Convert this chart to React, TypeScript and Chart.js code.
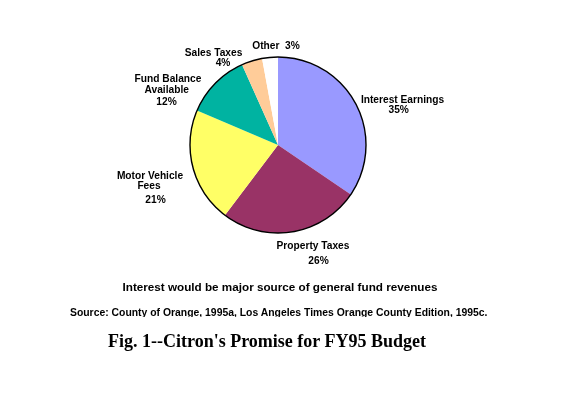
import React, { useEffect, useRef } from "react";
import { Chart, registerables } from "chart.js";

Chart.register(...registerables);

const categories = [
  "Interest Earnings",
  "Property Taxes",
  "Motor Vehicle Fees",
  "Fund Balance Available",
  "Sales Taxes",
  "Other",
];
const values = [34.5, 25.8, 21.1, 11.9, 3.8, 2.9];
const percentLabels = ["35%", "26%", "21%", "12%", "4%", "3%"];
const labelLines = [
  ["Interest Earnings", "35%"],
  ["Property Taxes", "26%"],
  ["Motor Vehicle", "Fees", "21%"],
  ["Fund Balance", "Available", "12%"],
  ["Sales Taxes", "4%"],
  ["Other  3%"],
];
const sliceColors = ["#9999ff", "#993366", "#ffff66", "#00b3a1", "#ffcc99", "#ffffff"];

// label line anchors relative to pie centre (dx, baseline dy)
const labelAnchors = [
  [[124.5, -42.3], [120.7, -32]],
  [[35, 104], [40.5, 119]],
  [[-128, 34.3], [-129, 44.3], [-122.5, 57.7]],
  [[-110, -63], [-111.3, -52], [-111.5, -40]],
  [[-64.5, -89], [-55, -79]],
  [[-2, -96]],
];

const caption = "Interest would be major source of general fund revenues";
const source = "Source: County of Orange, 1995a, Los Angeles Times Orange County Edition, 1995c.";
const figTitle = "Fig. 1--Citron's Promise for FY95 Budget";

const labelPlugin = {
  id: "pieLabels",
  afterDatasetsDraw(chart: any) {
    const meta = chart.getDatasetMeta(0);
    const arc = meta.data[0];
    if (!arc) return;
    const { x, y, outerRadius } = arc.getProps(["x", "y", "outerRadius"], true);
    const ctx = chart.ctx;
    ctx.save();
    ctx.beginPath();
    ctx.arc(x, y, outerRadius, 0, Math.PI * 2);
    ctx.strokeStyle = "#000";
    ctx.lineWidth = 1.4;
    ctx.stroke();
    ctx.fillStyle = "#000";
    ctx.font = "bold 10.2px 'Liberation Sans', Arial, sans-serif";
    ctx.textAlign = "center";
    ctx.textBaseline = "alphabetic";
    labelLines.forEach((lines, i) => {
      lines.forEach((line, j) => {
        const [dx, dy] = labelAnchors[i][j];
        ctx.fillText(line, x + dx, y + dy);
      });
    });
    ctx.restore();
  },
};

export default function App() {
  const ref = useRef<HTMLCanvasElement | null>(null);
  useEffect(() => {
    document.body.style.margin = "0";
    const chart = new Chart(ref.current as HTMLCanvasElement, {
      type: "pie",
      data: {
        labels: categories.map((c, i) => `${c} ${percentLabels[i]}`),
        datasets: [
          {
            data: values,
            backgroundColor: sliceColors,
            borderWidth: 0,
            hoverOffset: 0,
          },
        ],
      },
      options: {
        responsive: false,
        animation: false,
        events: [],
        layout: { padding: { top: 57, bottom: 160, left: 100, right: 116 } },
        plugins: { legend: { display: false }, tooltip: { enabled: false } },
      },
      plugins: [labelPlugin],
    });
    return () => chart.destroy();
  }, []);

  return (
    <div style={{ position: "relative", width: 572, height: 393, background: "#fff" }}>
      <canvas ref={ref} width={572} height={393} style={{ position: "absolute", left: 0, top: 0 }} />
      <div
        style={{
          position: "absolute",
          left: 0,
          width: 560,
          top: 280,
          textAlign: "center",
          font: "bold 11.7px 'Liberation Sans', Arial, sans-serif",
          lineHeight: "14px",
          whiteSpace: "nowrap",
        }}
      >
        {caption}
      </div>
      <div
        style={{
          position: "absolute",
          left: 70,
          top: 307,
          height: 10,
          overflow: "hidden",
          font: "bold 10.4px 'Liberation Sans', Arial, sans-serif",
          lineHeight: "12px",
          whiteSpace: "nowrap",
        }}
      >
        {source}
      </div>
      <div
        style={{
          position: "absolute",
          left: 108,
          top: 330,
          font: "bold 18px 'Liberation Serif', 'Times New Roman', serif",
          lineHeight: "22px",
          whiteSpace: "nowrap",
        }}
      >
        {figTitle}
      </div>
    </div>
  );
}
